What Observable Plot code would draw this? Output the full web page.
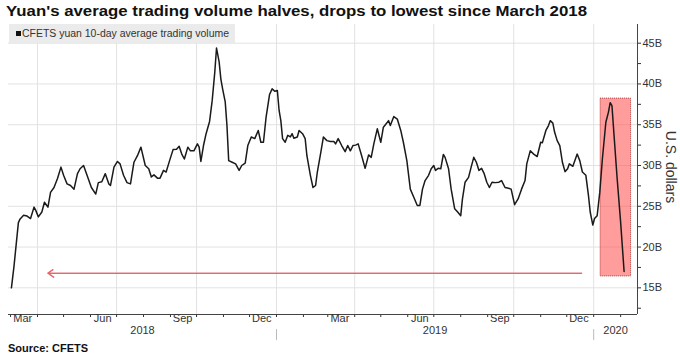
<!DOCTYPE html>
<html><head><meta charset="utf-8">
<script src="https://cdn.jsdelivr.net/npm/d3@7"></script>
<script src="https://cdn.jsdelivr.net/npm/@observablehq/plot@0.6"></script>
<style>
body{margin:0;background:#fff;width:680px;height:356px;position:relative;overflow:hidden;font-family:"Liberation Sans",Arial,sans-serif;}
#title{position:absolute;left:6px;top:2px;font-weight:bold;font-size:15px;line-height:18px;color:#111;white-space:nowrap;transform-origin:left center;}
#chart{position:absolute;left:0;top:22px;}
#legend{position:absolute;left:9px;top:24px;width:226px;height:19px;background:#ebebeb;}
#legend .sw{position:absolute;left:7px;top:7px;width:5px;height:5px;background:#111;}
#legend .tx{position:absolute;left:13px;top:0;font-size:10px;line-height:19px;color:#333;white-space:nowrap;transform-origin:left center;}
#source{position:absolute;left:8px;top:341px;font-weight:bold;font-size:11px;line-height:14px;color:#111;white-space:nowrap;}
#ylabel{position:absolute;left:621px;top:159px;width:100px;text-align:center;font-size:14px;line-height:16px;color:#333;transform:rotate(90deg);white-space:nowrap;}
</style></head>
<body>
<div id="title">Yuan's average trading volume halves, drops to lowest since March 2018</div>
<div id="chart"></div>
<div id="legend"><div class="sw"></div><div class="tx">CFETS yuan 10-day average trading volume</div></div>
<div id="ylabel">U.S. dollars</div>
<div id="source">Source: CFETS</div>
<script>
const dates = ["2018-03-02","2018-03-05","2018-03-10","2018-03-12","2018-03-16","2018-03-20","2018-03-24","2018-03-28","2018-03-30",
"2018-04-02","2018-04-06","2018-04-09","2018-04-13","2018-04-16","2018-04-20","2018-04-24","2018-04-28",
"2018-05-01","2018-05-05","2018-05-09","2018-05-13","2018-05-17","2018-05-20","2018-05-24","2018-05-28",
"2018-06-02","2018-06-07","2018-06-10","2018-06-14","2018-06-18","2018-06-22","2018-06-24","2018-06-28",
"2018-07-02","2018-07-05","2018-07-09","2018-07-13","2018-07-17","2018-07-21","2018-07-25","2018-07-29",
"2018-08-03","2018-08-07","2018-08-10","2018-08-13","2018-08-17","2018-08-20","2018-08-24","2018-08-27","2018-08-31",
"2018-09-04","2018-09-08","2018-09-11","2018-09-14","2018-09-17","2018-09-21","2018-09-24","2018-09-28",
"2018-10-02","2018-10-04","2018-10-06","2018-10-09","2018-10-12","2018-10-16","2018-10-19","2018-10-22","2018-10-24","2018-10-27","2018-10-29","2018-10-31",
"2018-11-03","2018-11-05","2018-11-07","2018-11-11","2018-11-15","2018-11-19","2018-11-22","2018-11-26","2018-11-29",
"2018-12-03","2018-12-07","2018-12-11","2018-12-14","2018-12-17","2018-12-20","2018-12-24","2018-12-27","2018-12-30",
"2019-01-02","2019-01-04","2019-01-06","2019-01-08","2019-01-11","2019-01-14","2019-01-17","2019-01-19","2019-01-21","2019-01-25","2019-01-27","2019-01-31",
"2019-02-03","2019-02-05","2019-02-09","2019-02-12","2019-02-15","2019-02-17","2019-02-21","2019-02-24","2019-02-28",
"2019-03-04","2019-03-08","2019-03-10","2019-03-13","2019-03-17","2019-03-21","2019-03-24","2019-03-27","2019-03-30",
"2019-04-02","2019-04-05","2019-04-09","2019-04-13","2019-04-17","2019-04-20","2019-04-23","2019-04-27",
"2019-05-01","2019-05-04","2019-05-07","2019-05-10","2019-05-12","2019-05-16","2019-05-20","2019-05-24","2019-05-27","2019-05-31",
"2019-06-04","2019-06-08","2019-06-12","2019-06-15","2019-06-18","2019-06-21","2019-06-25","2019-06-28",
"2019-07-01","2019-07-03","2019-07-06","2019-07-09","2019-07-12","2019-07-14","2019-07-18","2019-07-21","2019-07-25","2019-07-28",
"2019-08-01","2019-08-03","2019-08-06","2019-08-10","2019-08-13","2019-08-16","2019-08-19","2019-08-22","2019-08-25","2019-08-28","2019-08-31",
"2019-09-03","2019-09-06","2019-09-10","2019-09-14","2019-09-17","2019-09-21","2019-09-25","2019-09-28",
"2019-10-02","2019-10-06","2019-10-10","2019-10-14","2019-10-16","2019-10-20","2019-10-24","2019-10-28",
"2019-11-01","2019-11-03","2019-11-07","2019-11-10","2019-11-12","2019-11-15","2019-11-17","2019-11-20","2019-11-23","2019-11-26","2019-11-29",
"2019-12-02","2019-12-04","2019-12-08","2019-12-11","2019-12-13","2019-12-16","2019-12-19","2019-12-23","2019-12-26","2019-12-28","2019-12-31",
"2020-01-02","2020-01-05","2020-01-08","2020-01-11","2020-01-15","2020-01-18","2020-01-20","2020-01-22","2020-01-25","2020-01-28",
"2020-02-01","2020-02-05"];
const volumes = [15.0,17.7,23.0,23.45,23.9,23.8,23.5,24.9,24.5,
23.7,24.3,25.5,24.9,26.7,27.3,28.4,29.8,
28.8,27.75,27.55,27.1,29.0,29.6,30.0,28.8,
27.3,26.5,27.9,28.0,29.0,27.75,27.55,29.8,
30.5,30.2,28.8,27.9,27.75,30.4,31.2,32.25,
30.0,29.6,28.6,28.85,28.45,28.45,29.4,29.2,30.6,
31.95,32.0,32.35,31.4,30.8,32.25,31.8,31.8,
32.65,32.25,30.5,32.45,33.9,35.4,37.95,41.45,44.4,42.7,40.6,39.4,
37.8,34.9,30.6,30.4,30.2,29.4,30.0,30.3,32.45,
33.5,33.3,34.3,32.85,32.85,35.9,38.7,39.4,39.1,
39.2,36.75,35.5,33.3,32.85,33.7,33.5,33.9,33.35,33.5,34.3,33.9,
33.3,31.2,28.8,27.3,27.55,29.2,31.6,33.5,33.05,
32.95,32.95,32.65,33.3,32.45,31.7,32.45,31.8,32.45,
32.5,32.65,31.2,29.65,31.3,31.0,32.65,34.5,
32.85,34.7,35.1,35.5,34.9,36.0,35.7,34.3,32.85,30.6,
27.1,26.1,25.1,25.1,27.1,28.15,28.8,29.6,
30.0,29.4,29.65,29.6,31.35,31.0,29.6,27.1,24.7,24.35,
23.85,25.9,27.95,28.55,29.8,31.0,30.4,29.4,29.65,29.0,27.95,
27.3,27.95,27.9,27.95,28.15,27.3,27.2,27.1,
25.2,25.9,27.1,28.15,30.2,31.8,31.4,31.1,
32.85,32.8,34.3,34.9,35.5,35.2,34.1,33.05,32.45,30.4,29.25,
29.6,30.2,29.9,30.8,31.4,30.6,29.2,28.8,26.3,24.3,22.7,
23.5,23.85,26.7,30.8,35.3,36.55,37.7,37.35,32.85,28.4,
23.05,17.0];

const yTicks = [15, 20, 25, 30, 35, 40, 45];
const yMinorTicks = [12.5, 17.5, 22.5, 27.5, 32.5, 37.5, 42.5];
const monthLabels = [["2018-03-15","Mar"],["2018-06-15","Jun"],["2018-09-15","Sep"],["2018-12-15","Dec"],
                     ["2019-03-15","Mar"],["2019-06-15","Jun"],["2019-09-15","Sep"],["2019-12-15","Dec"]];
const yearLabels = ["2018","2019","2020"];
const quarterStarts = ["2018-04-01","2018-07-01","2018-10-01","2019-01-01","2019-04-01","2019-07-01","2019-10-01","2020-01-01"];
const yearStarts = ["2019-01-01","2020-01-01"];
const boxDates = ["2020-01-09","2020-02-13"];
const boxValues = [16.4, 38.2];
const arrowDates = ["2019-12-18","2018-04-13"];
const arrowValue = 16.8;

const xDomain = [new Date("2018-02-26T15:00Z"), new Date("2020-02-20T10:00Z")];
const yDomain = [11.73, 47.29];

const data = dates.map((d, i) => ({date: new Date(d), value: volumes[i]}));
const months = monthLabels.map(([d, t]) => ({date: new Date(d), label: t}));
const years = yearLabels.map(y => {
  const a = new Date(Math.max(+new Date(`${y}-01-01`), +xDomain[0]));
  const b = new Date(Math.min(+new Date(`${+y + 1}-01-01`), +xDomain[1]));
  return {date: new Date((+a + +b) / 2), label: y};
});
const monthTicks = d3.utcMonth.range(new Date("2018-03-01"), new Date("2020-02-02"));

const chart = Plot.plot({
  width: 680, height: 320,
  marginTop: 2, marginBottom: 28, marginLeft: 8, marginRight: 43,
  x: {type: "utc", domain: xDomain, label: null},
  y: {domain: yDomain, label: null},
  style: {fontFamily: "'Liberation Sans', Arial, sans-serif", fontSize: "11px", color: "#333", background: "white"},
  marks: [
    Plot.gridY(yTicks, {stroke: "#e2e2e2", strokeOpacity: 1}),
    Plot.gridX(quarterStarts.map(d => new Date(d)), {stroke: "#e2e2e2", strokeOpacity: 1}),
    Plot.rect([0], {x1: () => new Date(boxDates[0]), x2: () => new Date(boxDates[1]), y1: () => boxValues[0], y2: () => boxValues[1],
      fill: "#ff4d4d", fillOpacity: 0.55, stroke: "#b03030", strokeDasharray: "1,1", strokeWidth: 1}),
    Plot.arrow([0], {x1: () => new Date(arrowDates[0]), x2: () => new Date(arrowDates[1]), y1: () => arrowValue, y2: () => arrowValue,
      stroke: "#e26a6a", strokeWidth: 1.5, strokeDasharray: "1,1", headLength: 7, headAngle: 70}),
    Plot.lineY(data, {x: "date", y: "value", stroke: "#1a1a1a", strokeWidth: 1.5}),
    Plot.axisY(yTicks, {anchor: "right", tickSize: 3, tickPadding: 2, tickFormat: d => d + "B", label: null, color: "#333"}),
    Plot.axisY(yMinorTicks, {anchor: "right", tickSize: 3, tickFormat: () => "", label: null}),
    Plot.axisX(monthTicks, {anchor: "bottom", tickSize: 3, tickFormat: () => "", label: null}),
    Plot.ruleX([xDomain[1]], {stroke: "#444"}),
    Plot.ruleY([yDomain[0]], {stroke: "#444"}),
    Plot.text(months, {x: "date", text: "label", frameAnchor: "bottom", dy: 7.5, fill: "#333", fontSize: 11}),
    Plot.text(years, {x: "date", text: "label", frameAnchor: "bottom", dy: 19.5, fill: "#333", fontSize: 11}),
    Plot.ruleX(yearStarts.map(d => new Date(d)), {y1: yDomain[0] - 1.85, y2: yDomain[0] - 3.2, stroke: "#bbb"})
  ]
});
document.getElementById("chart").appendChild(chart);

function fit(el, target) {
  const w = el.getBoundingClientRect().width;
  if (w > 0) el.style.transform = `scaleX(${target / w})`;
}
fit(document.getElementById("title"), 581);
fit(document.querySelector("#legend .tx"), 207);
</script>
</body></html>
